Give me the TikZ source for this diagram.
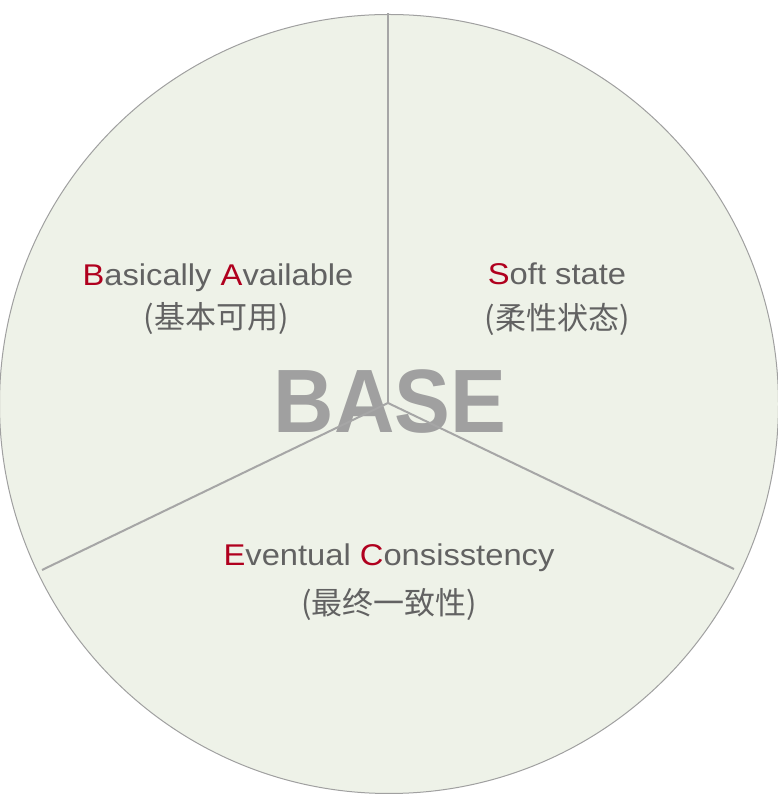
\documentclass[tikz,border=0pt]{standalone}
\usepackage{fontspec}
\setmainfont{Liberation Sans}
\newfontfamily\cjk{Noto Sans CJK SC}
\begin{document}
\begin{tikzpicture}[x=1pt,y=1pt,
  pie/.style={draw=edgegray,line width=1pt,fill=piefill},
  divider/.style={draw=divgray,line width=2pt},
  title/.style={text=titlegray,font=\bfseries\fontsize{90}{100}\selectfont,xscale=0.93,inner sep=0pt,anchor=base},
  latin/.style={text=textgray,font=\fontsize{30}{36}\selectfont,xscale=1.09,inner sep=0pt,anchor=base},
  hanzi/.style={text=textgray,font=\cjk\fontsize{31}{36}\selectfont,inner sep=0pt,anchor=base},
]
\definecolor{piefill}{HTML}{EEF2E8}
\definecolor{edgegray}{HTML}{A0A0A0}
\definecolor{divgray}{HTML}{A6A6A6}
\definecolor{titlegray}{HTML}{A0A0A0}
\definecolor{textgray}{HTML}{626262}
\definecolor{accent}{HTML}{B0001E}
\useasboundingbox (0,0) rectangle (778,803);

% disc
\path[pie] (389,399) circle (389.5);

% title
\node[title] (base) at (390,370) {BASE};

% three sectors
\coordinate (hub) at (388,400);
\coordinate (top) at (388,790);
\coordinate (lft) at (42,233);
\coordinate (rgt) at (734,234);
\draw[divider] (hub) -- (top);
\draw[divider] (hub) -- (lft);
\draw[divider] (hub) -- (rgt);

% labels
\node[latin] (ba) at (218,517) {\textcolor{accent}{B}asically \textcolor{accent}{A}vailable};
\node[hanzi] (bacn) at (216,474) {(基本可用)};
\node[latin] (ss) at (557,518) {\textcolor{accent}{S}oft state};
\node[hanzi] (sscn) at (557,473) {(柔性状态)};
\node[latin] (ec) at (389,237) {\textcolor{accent}{E}ventual \textcolor{accent}{C}onsisstency};
\node[hanzi] (eccn) at (389,188) {(最终一致性)};
\end{tikzpicture}
\end{document}
